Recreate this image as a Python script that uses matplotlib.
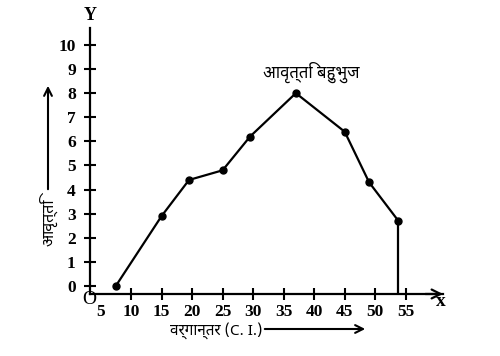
import matplotlib
matplotlib.use("Agg")
import matplotlib.pyplot as plt
from matplotlib.patches import FancyArrowPatch

mid_points = [7.5, 15, 19.5, 25, 29.5, 37, 45, 49, 53.8]
frequency = [0, 2.9, 4.4, 4.8, 6.2, 8, 6.4, 4.3, 2.7]

x_ticks = [5, 10, 15, 20, 25, 30, 35, 40, 45, 50, 55]
y_ticks = list(range(0, 11))

title_text = "आवृत्ति बहुभुज"
x_label = "वर्गान्तर (C. I.)"
y_label = "आवृत्ति"

HINDI = ["Noto Sans Devanagari", "DejaVu Sans"]
SERIF = "Liberation Serif"
NUM = dict(family=SERIF, fontweight="bold", fontsize=12.5)

fig = plt.figure(figsize=(5, 3.56), dpi=100)
ax = fig.add_axes([0.18, 0.1742, 0.706, 0.747])
ax.set_xlim(3.28, 61.1)
ax.set_ylim(-0.33, 10.7)

for s in ["top", "right"]:
    ax.spines[s].set_visible(False)
for s in ["left", "bottom"]:
    ax.spines[s].set_linewidth(1.6)

ax.plot(mid_points, frequency, color="black", lw=1.6, marker="o", ms=5,
        solid_joinstyle="round")
ax.plot([mid_points[-1], mid_points[-1]], [frequency[-1], -0.33],
        color="black", lw=1.6)

ax.set_xticks(x_ticks)
ax.set_xticklabels([str(v) for v in x_ticks], **NUM)
ax.set_yticks(y_ticks)
ax.set_yticklabels([str(v) for v in y_ticks], **NUM)
ax.tick_params(axis="both", direction="inout", length=8.5, width=1.5)
ax.tick_params(axis="y", pad=6)
ax.tick_params(axis="x", pad=3)
ax.xaxis.get_major_ticks()[0].tick1line.set_visible(False)

# arrow at the end of the x axis
ax.annotate("", xy=(1.0, 0), xytext=(0.95, 0), xycoords="axes fraction",
            arrowprops=dict(arrowstyle="->", lw=1.6, mutation_scale=16,
                            shrinkA=0, shrinkB=0))

fig.text(90 / 500, 1 - 15 / 356, "Y", ha="center", va="center",
         family=SERIF, fontweight="bold", fontsize=13)
fig.text(441 / 500, 1 - 301 / 356, "x", ha="center", va="center",
         family=SERIF, fontweight="bold", fontsize=14)
fig.text(89 / 500, 1 - 299 / 356, "O", ha="center", va="center",
         family=SERIF, fontsize=14)

fig.text(311 / 500, 1 - 72 / 356, title_text, ha="center", va="center",
         family=HINDI, fontsize=12)

# x label with arrow
fig.text(216 / 500, 1 - 331 / 356, x_label, ha="center", va="center",
         family=HINDI, fontsize=11)
fig.patches.append(FancyArrowPatch(
    (262 / 500, 1 - 329 / 356), (368 / 500, 1 - 329 / 356),
    transform=fig.transFigure, arrowstyle="->", lw=1.5, mutation_scale=14,
    color="black"))

# y label with arrow
fig.text(48 / 500, 1 - 222 / 356, y_label, ha="center", va="center",
         rotation=90, family=HINDI, fontsize=11.5)
fig.patches.append(FancyArrowPatch(
    (48 / 500, 1 - 192 / 356), (48 / 500, 1 - 83 / 356),
    transform=fig.transFigure, arrowstyle="->", lw=1.5, mutation_scale=14,
    color="black"))

fig.savefig("out.png", dpi=100)
